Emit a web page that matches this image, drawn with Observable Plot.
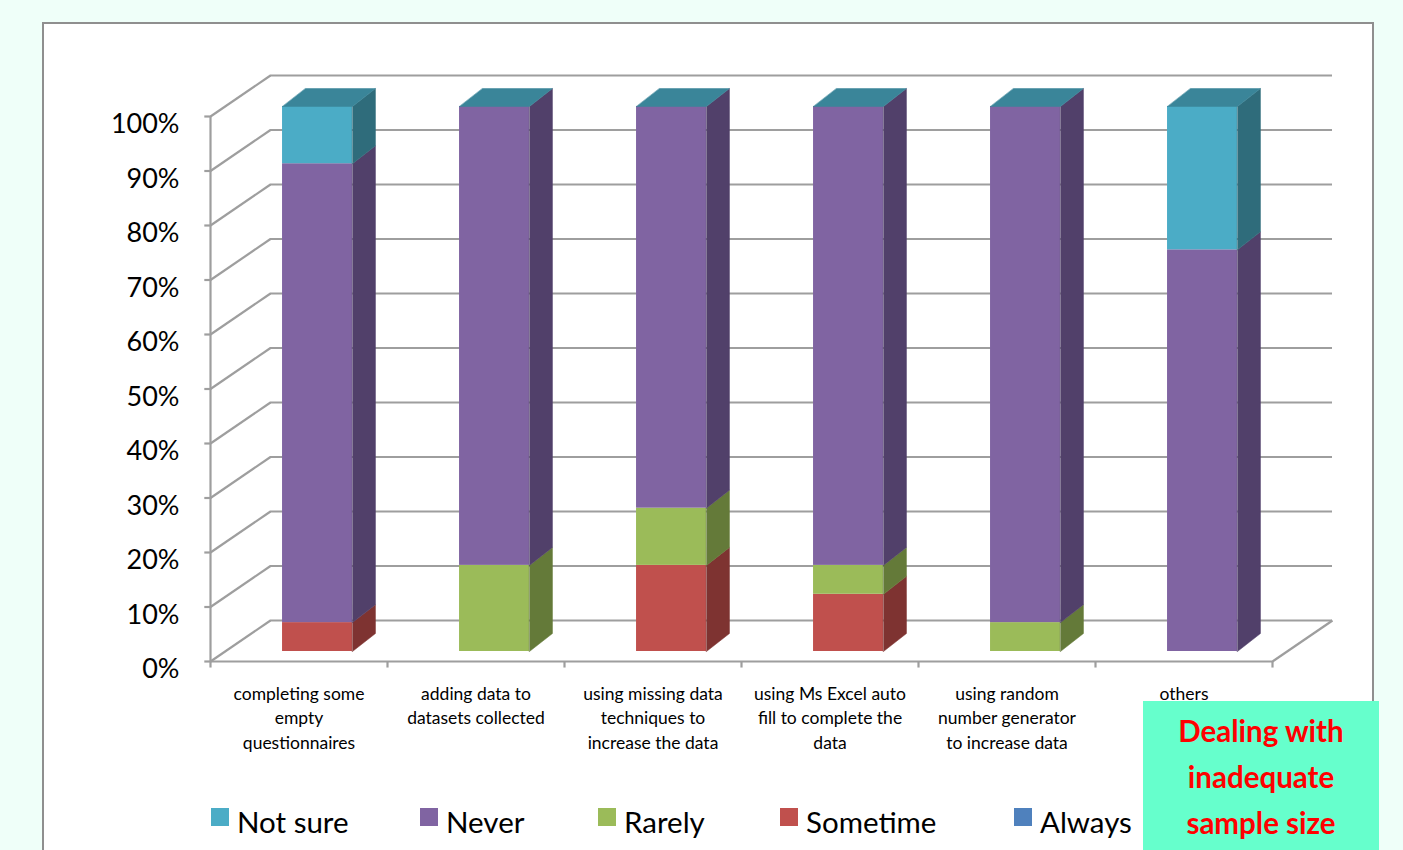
<!DOCTYPE html>
<html>
<head>
<meta charset="utf-8">
<script src="https://cdn.jsdelivr.net/npm/d3@7"></script>
<script src="https://cdn.jsdelivr.net/npm/@observablehq/plot@0.6"></script>
<style>
  html, body { margin: 0; padding: 0; }
  body { width: 1403px; height: 850px; background: #EFFFF9; position: relative; overflow: hidden; font-family: Lato, "Open Sans", sans-serif; }
  #frame { position: absolute; left: 42px; top: 22px; width: 1332px; height: 850px; background: #fff; border: 2px solid #8f8f8f; box-sizing: border-box; }
  #chart { position: absolute; left: 0; top: 0; }
  .leg { position: absolute; top: 804px; font-size: 29.5px; color: #000; display: flex; align-items: center; white-space: nowrap; }
  .leg .sw { width: 18px; height: 18px; margin-right: 8px; margin-top: -10px; }
  #note { position: absolute; left: 1143px; top: 701px; width: 236px; height: 149px; background: #66FFCC; color: #FF0000; font-weight: bold; font-size: 29.5px; text-align: center; line-height: 46px; padding-top: 7px; box-sizing: border-box; font-family: Lato, "Open Sans", sans-serif; }
</style>
</head>
<body>
<div id="frame"></div>
<div id="chart"></div>
<div id="legend"></div>
<div id="note">Dealing with<br>inadequate<br>sample size</div>
<script>
// ---- data ----
const categories = [
  "completing some\nempty\nquestionnaires",
  "adding data to\ndatasets collected",
  "using missing data\ntechniques to\nincrease the data",
  "using Ms Excel auto\nfill to complete the\ndata",
  "using random\nnumber generator\nto increase data",
  "others"
];
const seriesNames = ["Not sure", "Never", "Rarely", "Sometime", "Always"];
const notSure  = [10.5, 0, 0, 0, 0, 26.3];
const never    = [84.2, 84.2, 73.7, 84.2, 94.7, 73.7];
const rarely   = [0, 15.8, 10.5, 5.3, 5.3, 0];
const sometime = [5.3, 0, 15.8, 10.5, 0, 0];
const always   = [0, 0, 0, 0, 0, 0];
const yTicks = [0, 10, 20, 30, 40, 50, 60, 70, 80, 90, 100];

// ---- styles ----
const frontColors = {"Not sure": "#4BACC6", "Never": "#8064A2", "Rarely": "#9BBB59", "Sometime": "#C0504D", "Always": "#4F81BD"};
const sideColors  = {"Not sure": "#2F6C7B", "Never": "#51406A", "Rarely": "#647A39", "Sometime": "#7E3331", "Always": "#335480"};
const topColor = "#3A8599";
const gridColor = "#9e9e9e";

// geometry (in scale units)
const BAR_OFF = 0.407, BAR_W = 0.395, DEP_X = 0.130, DEP_Y = 3.3;
const WALL_X = 0.339, WALL_Y = 7.52;

// stack bottom -> top
const stackOrder = [["Always", always], ["Sometime", sometime], ["Rarely", rarely], ["Never", never], ["Not sure", notSure]];
const fronts = [], polys = [];
categories.forEach((c, i) => {
  let base = 0;
  const xl = i + BAR_OFF, xr = xl + BAR_W;
  stackOrder.forEach(([name, arr]) => {
    const v = arr[i];
    if (v > 0) {
      const y1 = base, y2 = base + v;
      fronts.push({x1: xl, x2: xr, y1, y2, c: frontColors[name]});
      const id = `s-${i}-${name}`;
      polys.push({id, x: xr, y: y1, c: sideColors[name]});
      polys.push({id, x: xr + DEP_X, y: y1 + DEP_Y, c: sideColors[name]});
      polys.push({id, x: xr + DEP_X, y: y2 + DEP_Y, c: sideColors[name]});
      polys.push({id, x: xr, y: y2, c: sideColors[name]});
    }
    base += v;
  });
  const id = `t-${i}`;
  polys.push({id, x: xl, y: base, c: topColor});
  polys.push({id, x: xr, y: base, c: topColor});
  polys.push({id, x: xr + DEP_X, y: base + DEP_Y, c: topColor});
  polys.push({id, x: xl + DEP_X, y: base + DEP_Y, c: topColor});
});

const chart = Plot.plot({
  width: 1403,
  height: 780,
  marginLeft: 210,
  marginRight: 131,
  marginTop: 106,
  marginBottom: 129,
  x: {domain: [0, categories.length], axis: null},
  y: {domain: [0, 100], axis: null},
  color: {type: "identity"},
  style: {background: "transparent", fontFamily: "Lato, 'Open Sans', sans-serif", overflow: "visible", color: "#000"},
  marks: [
    // back wall gridlines
    Plot.ruleY(yTicks, {x1: WALL_X, x2: categories.length + WALL_X, dy: -31, stroke: gridColor, strokeWidth: 2.2}),
    // side wall diagonals
    Plot.link(yTicks, {x1: 0, x2: WALL_X, y1: d => d, y2: d => d + WALL_Y, dy: 10, stroke: gridColor, strokeWidth: 2.2}),
    // floor front edge and right diagonal
    Plot.ruleY([0], {x1: 0, x2: categories.length, dy: 10, stroke: gridColor, strokeWidth: 2.2}),
    Plot.link([0], {x1: categories.length, x2: categories.length + WALL_X, y1: 0, y2: WALL_Y, dy: 10, stroke: gridColor, strokeWidth: 2.2}),
    // front vertical axis
    Plot.ruleX([0], {y1: 0, y2: 100, dy: 10, stroke: gridColor, strokeWidth: 2.2}),
    Plot.link(yTicks, {x1: -0.035, x2: 0, y1: d => d, y2: d => d, dy: 10, stroke: gridColor, strokeWidth: 2.2}),
    Plot.text(yTicks, {x: 0, y: d => d, text: d => d + "%", dx: -31, dy: 18, textAnchor: "end", fontSize: 27, fill: "#000"}),
    // category ticks
    Plot.ruleX(d3.range(categories.length + 1), {y1: 0, y2: -1.2, dy: 10, stroke: gridColor, strokeWidth: 2.2}),
    Plot.text(categories, {x: (d, i) => i + 0.5, y: 0, dy: 31, text: d => d, lineAnchor: "top", lineHeight: 1.4, fontSize: 17.5, fill: "#000"}),
    // bars
    Plot.rect(fronts, {x1: "x1", x2: "x2", y1: "y1", y2: "y2", fill: "c"}),
    Plot.line(polys, {x: "x", y: "y", z: "id", fill: "c", stroke: "c", strokeWidth: 0.5, curve: "linear-closed"})
  ]
});
document.getElementById("chart").appendChild(chart);

// legend
const legendX = [211, 420, 598, 780, 1014];
const legend = document.getElementById("legend");
seriesNames.forEach((name, i) => {
  const item = document.createElement("div");
  item.className = "leg";
  item.style.left = legendX[i] + "px";
  item.innerHTML = `<span class="sw" style="background:${frontColors[name]}"></span><span>${name}</span>`;
  legend.appendChild(item);
});
</script>
</body>
</html>
